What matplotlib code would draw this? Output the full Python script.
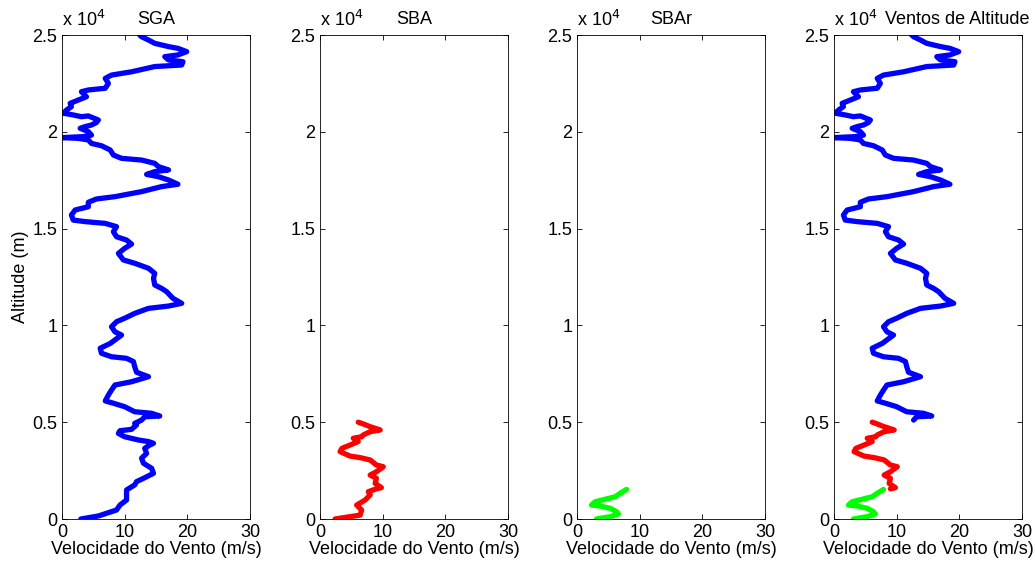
import matplotlib
matplotlib.use("Agg")
import matplotlib.pyplot as plt
import numpy as np

plt.rcParams['font.family'] = ['Liberation Sans', 'DejaVu Sans']

# SGA (blue) profile: wind speed (m/s) vs altitude (m)
sga_speed = [3.0, 5.8, 8.7, 9.25, 10.3, 10.3, 11.6, 11.9, 13.0, 14.6, 14.3, 13.0, 12.7, 13.5, 13.2,
             14.0, 14.6, 13.8, 12.2, 10.0, 9.0, 9.25, 11.1, 11.9, 11.6, 12.7, 13.2, 15.6, 14.3, 11.6,
             10.0, 8.2, 6.9, 7.4, 7.9, 8.45, 11.1, 13.8, 11.9, 11.6, 11.4, 10.3, 7.9, 6.3, 6.1,
             7.7, 9.5, 8.45, 7.9, 8.7, 10.0, 11.6, 13.8, 17.0, 19.1, 17.7, 16.7, 15.9, 14.8, 14.6,
             14.8, 13.8, 11.6, 9.8, 9.0, 10.0, 11.1, 10.3, 8.7, 8.2, 8.7, 6.9, 3.7, 1.8, 1.5,
             2.1, 4.2, 4.2, 5.5, 8.45, 12.7, 15.9, 18.5, 17.0, 15.4, 13.5, 14.8, 17.0, 15.4, 14.8,
             12.7, 9.5, 8.2, 7.7, 6.3, 4.7, 4.2, 2.6, 0.0, 3.4, 4.7, 4.2, 2.9, 3.7, 4.7,
             5.5, 5.8, 4.2, 3.1, 1.8, 0.2, 0.75, 1.5, 1.3, 2.6, 3.9, 3.1, 4.2, 6.9, 7.4,
             6.9, 7.9, 11.1, 14.8, 19.1, 19.3, 17.0, 16.4, 18.5, 19.9, 18.5, 17.0, 14.8, 13.8, 12.7,
             12.4]
sga_alt = [0, 155, 465, 720, 980, 1500, 1760, 1930, 2100, 2360, 2620, 2880, 3140, 3390, 3650,
           3820, 3910, 4000, 4080, 4250, 4420, 4560, 4630, 4860, 4940, 5110, 5280, 5320, 5460, 5540,
           5800, 5980, 6100, 6400, 6660, 6920, 7090, 7350, 7580, 7870, 8130, 8300, 8380, 8560, 8820,
           9070, 9500, 9670, 9930, 10190, 10370, 10620, 10880, 11000, 11140, 11400, 11740, 11910, 12090, 12430,
           12690, 12950, 13210, 13380, 13720, 13980, 14200, 14410, 14580, 14840, 15100, 15270, 15360, 15440, 15700,
           15960, 16130, 16360, 16530, 16650, 16910, 17170, 17290, 17510, 17680, 17800, 17940, 18030, 18200, 18370,
           18540, 18630, 18800, 19060, 19280, 19400, 19580, 19660, 19700, 19750, 19830, 20010, 20180, 20270, 20350,
           20480, 20610, 20820, 20780, 20870, 20960, 21130, 21300, 21470, 21640, 21810, 22070, 22160, 22250, 22500,
           22760, 22930, 23100, 23370, 23450, 23620, 23710, 23880, 23970, 24140, 24310, 24400, 24570, 24740, 24910,
           25000]

# SBA (red) profile
sba_speed = [2.4, 4.8, 6.4, 6.65, 5.85, 7.2, 8.0, 7.7, 9.0, 9.8, 8.8, 9.0, 8.0, 9.0, 10.1,
             9.0, 8.0, 6.4, 4.8, 3.2, 3.5, 4.8, 6.1, 5.3, 6.65, 6.9, 8.0, 9.6, 8.0, 6.65, 6.1]
sba_alt = [0, 120, 200, 460, 720, 980, 1240, 1410, 1560, 1620, 1840, 2100, 2270, 2440, 2700,
           2790, 3050, 3170, 3250, 3480, 3650, 3820, 4000, 4170, 4250, 4340, 4510, 4600, 4770, 4940, 5000]

# SBAr (green) profile
sbar_speed = [3.1, 5.3, 6.6, 6.3, 5.3, 3.7, 2.3, 2.9, 4.5, 6.1, 6.9, 7.9]
sbar_alt = [0, 120, 260, 380, 550, 670, 720, 890, 1020, 1150, 1330, 1530]

titles = ['SGA', 'SBA', 'SBAr', 'Ventos de Altitude']
xticks = [0, 10, 20, 30]
yticks = [0, 5000, 10000, 15000, 20000, 25000]
ytick_labels = ['0', '0.5', '1', '1.5', '2', '2.5']
xlabel = 'Velocidade do Vento (m/s)'
ylabel = 'Altitude (m)'

BLUE = '#0000ff'
RED = '#ff0000'
GREEN = '#00ff00'

W, H = 1035, 564
fig = plt.figure(figsize=(W / 100, H / 100), dpi=100)
lefts = [62, 320, 577, 834]
title_x = [0.5, 0.5, 0.5, 0.655]
aw, top, bot = 188, 35, 519
FS = 13

sga_s = np.array(sga_speed); sga_a = np.array(sga_alt)
sba_s = np.array(sba_speed); sba_a = np.array(sba_alt)
sbar_s = np.array(sbar_speed); sbar_a = np.array(sbar_alt)

lw = 3.8
axes = []
for i, l in enumerate(lefts):
    ax = fig.add_axes([l / W, (H - bot) / H, aw / W, (bot - top) / H])
    axes.append(ax)
    if i == 0:
        ax.plot(sga_s, sga_a, color=BLUE, lw=lw, solid_capstyle='round')
    elif i == 1:
        ax.plot(sba_s, sba_a, color=RED, lw=lw, solid_capstyle='round')
    elif i == 2:
        ax.plot(sbar_s, sbar_a, color=GREEN, lw=lw, solid_capstyle='round')
    else:
        m = sga_a >= 4980
        ax.plot(sga_s[m], sga_a[m], color=BLUE, lw=lw, solid_capstyle='round')
        m = sba_a >= 1540
        ax.plot(sba_s[m], sba_a[m], color=RED, lw=lw, solid_capstyle='round')
        ax.plot(sbar_s, sbar_a, color=GREEN, lw=lw, solid_capstyle='round')
    ax.set_xlim(0, 30)
    ax.set_ylim(0, 25000)
    ax.set_xticks(xticks)
    ax.set_xticklabels([str(t) for t in xticks])
    ax.set_yticks(yticks)
    ax.set_yticklabels(ytick_labels)
    ax.tick_params(direction='in', length=3.5, width=0.6, top=True, right=True,
                   labelsize=FS, colors='black')
    ax.tick_params(axis='x', pad=3.5)
    ax.tick_params(axis='y', pad=3.5)
    for sp in ax.spines.values():
        sp.set_linewidth(0.6)
        sp.set_color('black')
    ax.set_xlabel(xlabel, fontsize=FS, labelpad=0)
    ax.set_title(titles[i], fontsize=FS, pad=8, x=title_x[i])
    ax.text(0.0, 1.01, r'x 10$^4$', transform=ax.transAxes, fontsize=FS,
            ha='left', va='bottom')

axes[0].set_ylabel(ylabel, fontsize=FS, labelpad=2)

fig.savefig('out.png', dpi=100)
